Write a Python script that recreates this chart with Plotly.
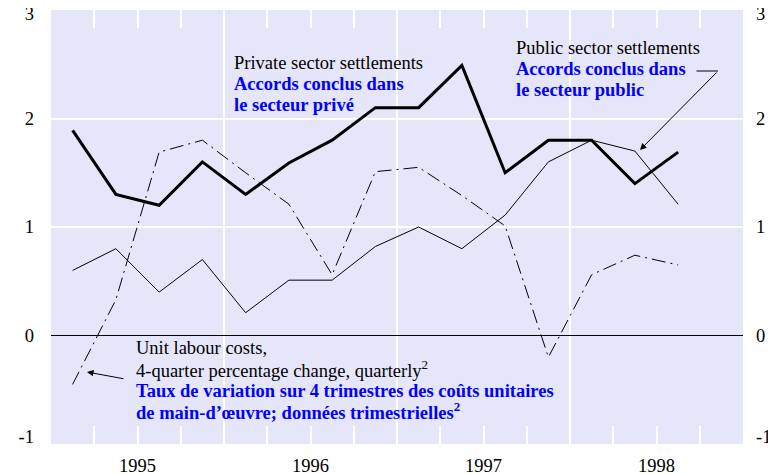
import plotly.graph_objects as go

# ---- data ----
quarters = ["1995Q1", "1995Q2", "1995Q3", "1995Q4",
            "1996Q1", "1996Q2", "1996Q3", "1996Q4",
            "1997Q1", "1997Q2", "1997Q3", "1997Q4",
            "1998Q1", "1998Q2", "1998Q3"]
private_settlements = [1.89, 1.30, 1.20, 1.60, 1.30, 1.59, 1.80, 2.10,
                       2.10, 2.49, 1.50, 1.80, 1.80, 1.40, 1.69]
public_settlements = [0.60, 0.80, 0.40, 0.70, 0.21, 0.51, 0.51, 0.82,
                      1.00, 0.80, 1.11, 1.60, 1.80, 1.70, 1.21]
unit_labour_costs = [-0.45, 0.33, 1.69, 1.80, 1.50, 1.21, 0.56, 1.51,
                     1.55, 1.29, 1.01, -0.20, 0.56, 0.74, 0.65]
years = ["1995", "1996", "1997", "1998"]
y_ticks = [-1, 0, 1, 2, 3]
y_ticktext = ["-1", "0", "1", "2", "3"]
y_grid = [1, 2]

FONT = "'Liberation Serif', 'Times New Roman', Times, serif"
BLUE = "#0000FF"
BG = "#E6E6FA"
FS = 18.5

# quarter label -> position on a continuous quarter axis (mid-quarter)
def qpos(label):
    y, q = int(label[:4]), int(label[-1])
    return (y - int(years[0])) * 4 + (q - 1) + 0.5

x = [qpos(q) for q in quarters]
n_q = len(years) * 4
year_mid = [i * 4 + 2 for i in range(len(years))]
year_bounds = [i * 4 for i in range(1, len(years))]
quarter_ticks = [i for i in range(1, n_q) if i % 4 != 0]
y_lo, y_hi = y_ticks[0], y_ticks[-1]
# the end labels sit slightly inside the frame, as in the reference
y_labelpos = [y_lo + 0.065] + y_ticks[1:-1] + [y_hi - 0.037]

fig = go.Figure()
fig.add_trace(go.Scatter(x=x, y=public_settlements, mode="lines",
                         line=dict(color="black", width=1), hoverinfo="skip"))
fig.add_trace(go.Scatter(x=x, y=unit_labour_costs, mode="lines",
                         line=dict(color="black", width=1, dash="14px,5px,2px,5px"),
                         hoverinfo="skip"))
fig.add_trace(go.Scatter(x=x, y=private_settlements, mode="lines",
                         line=dict(color="black", width=3), hoverinfo="skip"))

tickfont = dict(family=FONT, size=FS, color="black")

# page body has an 8px margin: figure is 768x466, placed at (8, 8)
fig.update_layout(
    width=768, height=466,
    margin=dict(l=43, r=33, t=2, b=30, autoexpand=False),
    paper_bgcolor="white", plot_bgcolor=BG,
    showlegend=False,
    font=dict(family=FONT),
    xaxis=dict(range=[0, n_q], tickmode="array", tickvals=quarter_ticks,
               ticks="inside", ticklen=18, tickwidth=2, tickcolor="white",
               mirror="ticks", showticklabels=False, showgrid=False,
               zeroline=False, showline=False, automargin=False),
    xaxis2=dict(overlaying="x", range=[0, n_q], tickmode="array",
                tickvals=year_bounds, showgrid=True, gridcolor="white",
                gridwidth=2, ticks="", showticklabels=False, zeroline=False,
                automargin=False),
    xaxis3=dict(overlaying="x", range=[0, n_q], tickmode="array",
                tickvals=year_mid, ticktext=years, ticks="", showgrid=False,
                zeroline=False, tickfont=tickfont, ticklabelstandoff=8,
                ticklabeloverflow="allow", automargin=False),
    yaxis=dict(range=[y_lo, y_hi], tickmode="array", tickvals=y_grid,
               showticklabels=False,
               showgrid=True, gridcolor="white", gridwidth=2,
               zeroline=True, zerolinecolor="black", zerolinewidth=1,
               ticks="", automargin=False),
    yaxis2=dict(overlaying="y", side="left", range=[y_lo, y_hi], tickmode="array",
                tickvals=y_labelpos, ticktext=y_ticktext,
                showgrid=False, zeroline=False, ticks="",
                tickfont=tickfont, ticklabelstandoff=16,
                ticklabeloverflow="allow", automargin=False),
    yaxis3=dict(overlaying="y", side="right", range=[y_lo, y_hi], tickmode="array",
                tickvals=y_labelpos, ticktext=y_ticktext,
                showgrid=False, zeroline=False, ticks="",
                tickfont=tickfont, ticklabelstandoff=12,
                ticklabeloverflow="allow", automargin=False),
)

# invisible traces so the overlay axes are drawn
fig.add_trace(go.Scatter(x=[None], y=[None], xaxis="x2", yaxis="y2", showlegend=False))
fig.add_trace(go.Scatter(x=[None], y=[None], xaxis="x3", yaxis="y3", showlegend=False))

def py(ypix):
    # window pixel row -> data value (plot top 10, bottom 444)
    return y_hi - (ypix - 10) / 434 * (y_hi - y_lo)

def px(xpix):
    # window pixel column -> quarter position (plot 51..743)
    return (xpix - 51) / (692 / n_q)

def label(text, xpix, ypix, color="black", bold=False):
    fig.add_annotation(x=px(xpix), y=py(ypix), xref="x", yref="y",
                       text=f"<b>{text}</b>" if bold else text,
                       showarrow=False, xanchor="left", yanchor="middle",
                       font=dict(family=FONT, size=FS, color=color))

label("Private sector settlements", 232, 63)
label("Accords conclus dans", 232, 84, BLUE, True)
label("le secteur privé", 232, 105, BLUE, True)

label("Public sector settlements", 514, 48)
label("Accords conclus dans", 514, 69, BLUE, True)
label("le secteur public", 514, 90, BLUE, True)

label("Unit labour costs,", 134, 348)
label("4-quarter percentage change, quarterly<sup>2</sup>", 134, 369)
label("Taux de variation sur 4 trimestres des coûts unitaires", 134, 391, BLUE, True)
label("de main-d’œuvre; données trimestrielles<sup>2</sup>", 134, 411, BLUE, True)

# arrows
fig.add_annotation(x=px(640), y=py(150), xref="x", yref="y", text="",
                   showarrow=True, ax=78, ay=-79, arrowhead=2, arrowsize=1.3,
                   arrowwidth=1, arrowcolor="black", standoff=0)
fig.add_annotation(x=px(718), y=py(71), xref="x", yref="y", text="",
                   showarrow=True, ax=-23, ay=0, arrowhead=0,
                   arrowwidth=1, arrowcolor="black", standoff=0)
fig.add_annotation(x=px(87), y=py(372), xref="x", yref="y", text="",
                   showarrow=True, ax=38, ay=7, arrowhead=2, arrowsize=1.3,
                   arrowwidth=1, arrowcolor="black", standoff=0)

fig.write_html("out.html")
